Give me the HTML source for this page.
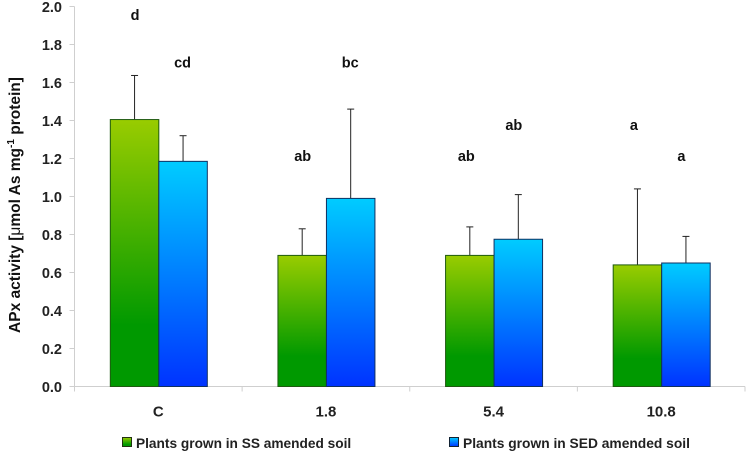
<!DOCTYPE html>
<html lang="en">
<head>
<meta charset="utf-8">
<title>APx activity chart</title>
<style>
html,body{margin:0;padding:0;background:#fff;}
svg{display:block;font-family:"Liberation Sans",Arial,sans-serif;}
</style>
</head>
<body>
<svg id="chart" xmlns="http://www.w3.org/2000/svg" width="747" height="452" viewBox="0 0 747 452">
<defs>
<linearGradient id="green-fill" x1="0" y1="0" x2="0" y2="1">
<stop offset="0" stop-color="#99cc00"/><stop offset="0.77" stop-color="#009900"/><stop offset="1" stop-color="#009900"/>
</linearGradient>
<linearGradient id="blue-fill" x1="0" y1="0" x2="0" y2="1">
<stop offset="0" stop-color="#00ccff"/><stop offset="1" stop-color="#0033ff"/>
</linearGradient>
</defs>
<g id="plot"></g>
<text transform="translate(20,205) rotate(-90)" text-anchor="middle" font-size="15.5" font-weight="bold" fill="#111">APx activity [<tspan font-weight="normal">μ</tspan>mol As mg<tspan font-size="10" dy="-6">-1</tspan><tspan dy="6"> protein]</tspan></text>
<g>
<rect x="122.5" y="437.5" width="9" height="9" fill="url(#green-fill)" stroke="#223311" stroke-width="1"/>
<text x="136" y="448" font-size="13.7" font-weight="bold" fill="#222">Plants grown in SS amended soil</text>
</g>
<g>
<rect x="449.5" y="437.5" width="9" height="9" fill="url(#blue-fill)" stroke="#112233" stroke-width="1"/>
<text x="463" y="448" font-size="13.8" font-weight="bold" fill="#222">Plants grown in SED amended soil</text>
</g>
</svg>
<script>
const categories = ['C', '1.8', '5.4', '10.8'];
const ssValues = [1.405, 0.69, 0.69, 0.64];
const sedValues = [1.185, 0.99, 0.775, 0.65];
const ssErrors = [0.232, 0.14, 0.15, 0.40];
const sedErrors = [0.135, 0.47, 0.235, 0.14];
const ssLetters = ['d', 'ab', 'ab', 'a'];
const sedLetters = ['cd', 'bc', 'ab', 'a'];
const ssLetterLevels = [1.93, 1.187, 1.187, 1.35];
const sedLetterLevels = [1.68, 1.68, 1.35, 1.187];
const yTicks = ['0.0', '0.2', '0.4', '0.6', '0.8', '1.0', '1.2', '1.4', '1.6', '1.8', '2.0'];

const NS = 'http://www.w3.org/2000/svg';
const plot = document.getElementById('plot');
const left = 74.5, right = 745, top_ = 6.5, bottom = 386.5, yMax = 2;
const groupW = (right - left) / categories.length;
const barW = 48.5;
const y = v => bottom - (v / yMax) * (bottom - top_);
const groupX = i => left + groupW * i;
const groupMid = i => groupX(i) + groupW / 2 + 0.5;

function add(tag, attrs, text) {
  const el = document.createElementNS(NS, tag);
  for (const k in attrs) el.setAttribute(k, attrs[k]);
  if (text !== undefined) el.textContent = text;
  plot.appendChild(el);
  return el;
}

const yAxis = add('line', {x1: left, x2: left, y1: top_, y2: bottom, stroke: '#cfcfcf', 'stroke-width': 1});


const xAxis = add('line', {x1: left, x2: right, y1: bottom, y2: bottom, stroke: '#cfcfcf', 'stroke-width': 1});



yTicks.forEach(t => {
  const v = parseFloat(t);
  const tick = add('line', {x1: left - 5, x2: left, y1: y(v), y2: y(v), stroke: '#cfcfcf', 'stroke-width': 1});
  
  
  const label = add('text', {x: 62, y: y(v) + 5.5, 'text-anchor': 'end', 'font-size': 14.5, 'font-weight': 'bold', fill: '#222'}, t);
  
  
});

for (let i = 0; i <= categories.length; i++) {
  const tick = add('line', {x1: groupX(i), x2: groupX(i), y1: bottom, y2: bottom + 5, stroke: '#cfcfcf', 'stroke-width': 1});
  
  
}

function drawBar(i, value, err, x, fill, stroke, name) {
  const errX = x + barW / 2;
  const line = add('line', {x1: errX, x2: errX, y1: y(value + err), y2: y(value), stroke: '#222', 'stroke-width': 1});
  
  
  const cap = add('line', {x1: errX - 3.5, x2: errX + 3.5, y1: y(value + err), y2: y(value + err), stroke: '#222', 'stroke-width': 1});
  
  
  const bar = add('rect', {x: x, y: y(value), width: barW, height: bottom - y(value), fill: fill, stroke: stroke, 'stroke-width': 1});
  
  
}

function drawLetter(text, x, level, name) {
  const t = add('text', {x: x, y: y(level), 'text-anchor': 'middle', 'font-size': 14.5, 'font-weight': 'bold', fill: '#111'}, text);
  
  
}

categories.forEach((c, i) => {
  const mid = groupMid(i);
  const letterShift = i >= 2 ? -4 : 0;
  drawBar(i, ssValues[i], ssErrors[i], mid - barW, 'url(#green-fill)', '#1f5a10', 'ss');
  drawBar(i, sedValues[i], sedErrors[i], mid, 'url(#blue-fill)', '#103060', 'sed');
  drawLetter(ssLetters[i], mid - barW / 2 + 0.5 + letterShift, ssLetterLevels[i], 'ss');
  drawLetter(sedLetters[i], mid + barW / 2 - 0.5 + letterShift, sedLetterLevels[i], 'sed');
  const label = add('text', {x: mid - 0.5, y: 416.5, 'text-anchor': 'middle', 'font-size': 15, 'font-weight': 'bold', fill: '#222'}, c);
  
  
});
</script>
</body>
</html>
